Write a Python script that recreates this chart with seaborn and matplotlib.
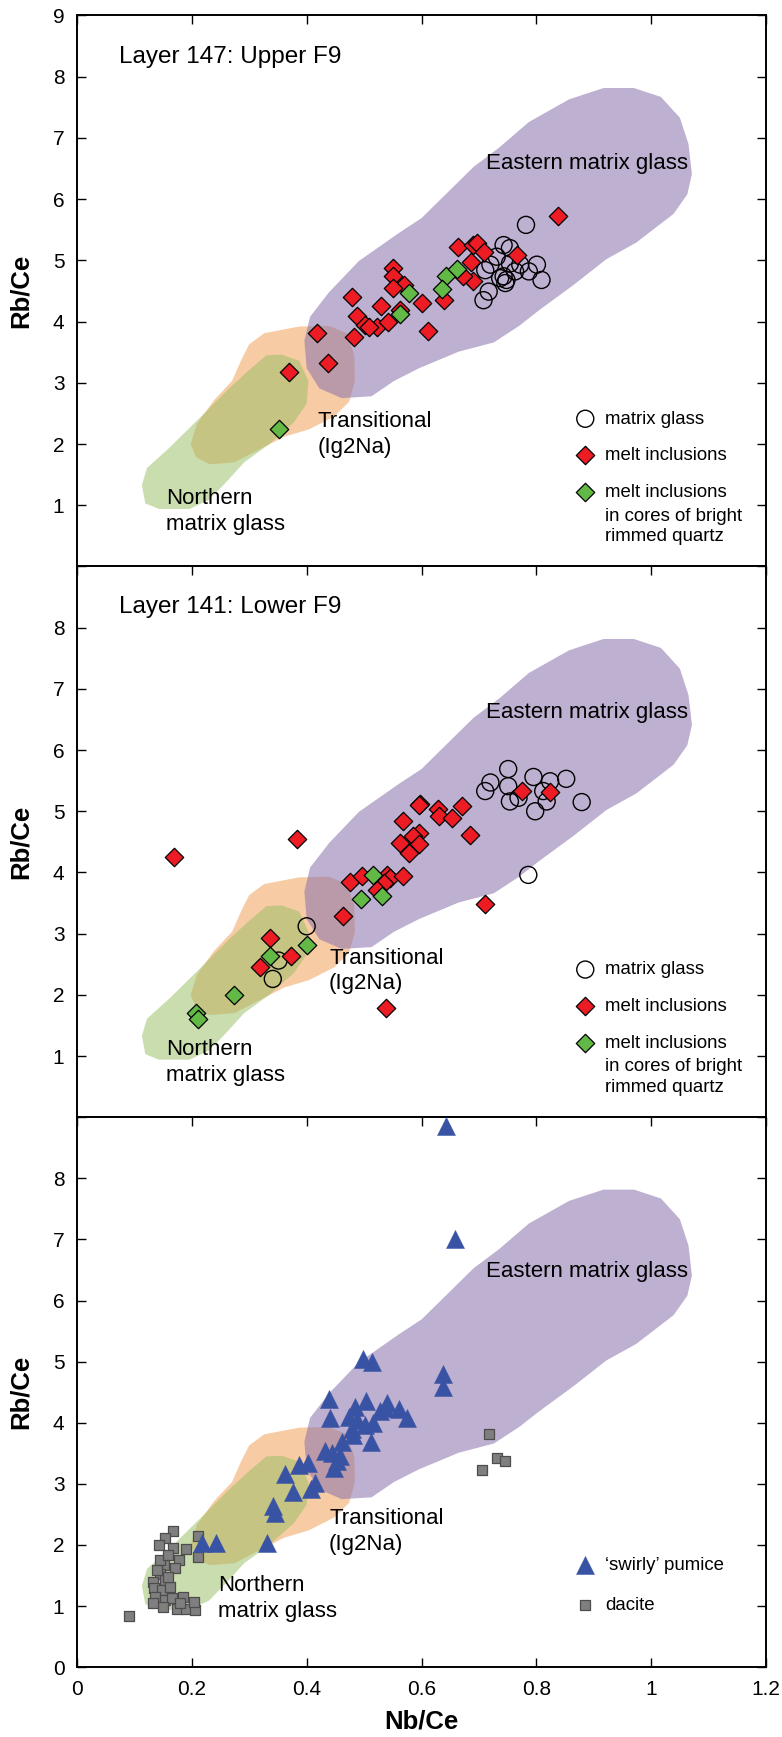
import matplotlib
matplotlib.use("Agg")
import matplotlib.pyplot as plt
import seaborn as sns

# ---------------- compositional fields (same in every panel) ----------------
east_x = [0.917, 0.970, 1.017, 1.050, 1.065, 1.071, 1.063, 1.039, 0.974, 0.922, 0.865, 0.804,
          0.770, 0.726, 0.665, 0.596, 0.552, 0.513, 0.461, 0.422, 0.400, 0.396, 0.406, 0.439,
          0.491, 0.561, 0.600, 0.639, 0.691, 0.735, 0.787, 0.857]
east_y = [7.815, 7.815, 7.67, 7.33, 6.90, 6.41, 6.08, 5.76, 5.29, 5.02, 4.60, 4.18,
          3.93, 3.66, 3.51, 3.24, 3.03, 2.78, 2.75, 2.91, 3.24, 3.69, 4.08, 4.48,
          4.99, 5.45, 5.69, 6.05, 6.53, 6.84, 7.26, 7.63]
trans_x = [0.326, 0.387, 0.439, 0.470, 0.483, 0.484, 0.474, 0.448, 0.404, 0.361, 0.317, 0.274,
           0.230, 0.207, 0.198, 0.209, 0.239, 0.270, 0.287, 0.300]
trans_y = [3.81, 3.92, 3.93, 3.81, 3.45, 3.03, 2.69, 2.45, 2.24, 2.12, 1.91, 1.70,
           1.67, 1.79, 2.00, 2.33, 2.72, 3.03, 3.39, 3.63]
north_x = [0.330, 0.357, 0.387, 0.403, 0.400, 0.378, 0.335, 0.291, 0.261, 0.230, 0.196, 0.143,
           0.119, 0.113, 0.122, 0.161, 0.213, 0.265, 0.300]
north_y = [3.45, 3.46, 3.36, 3.03, 2.66, 2.36, 2.00, 1.70, 1.39, 1.09, 0.94, 0.94,
           1.03, 1.33, 1.61, 1.94, 2.42, 2.91, 3.21]

# ---------------- Panel 1: Layer 147 ----------------
x1_mg = [0.782, 0.743, 0.754, 0.731, 0.720, 0.711, 0.754, 0.772, 0.801, 0.787, 0.809, 0.743,
         0.748, 0.746, 0.737, 0.717, 0.708, 0.763]
y1_mg = [5.58, 5.25, 5.20, 5.06, 4.93, 4.84, 4.95, 4.93, 4.93, 4.82, 4.68, 4.74,
         4.68, 4.63, 4.71, 4.49, 4.35, 4.82]
x1_mi = [0.837, 0.663, 0.689, 0.697, 0.708, 0.686, 0.766, 0.689, 0.673, 0.640, 0.550, 0.550,
         0.569, 0.551, 0.600, 0.479, 0.530, 0.487, 0.501, 0.522, 0.541, 0.563, 0.482, 0.612,
         0.418, 0.438, 0.370, 0.509]
y1_mi = [5.73, 5.22, 5.25, 5.29, 5.14, 4.98, 5.08, 4.67, 4.75, 4.35, 4.87, 4.74,
         4.60, 4.55, 4.31, 4.41, 4.26, 4.09, 3.95, 3.92, 4.00, 4.19, 3.75, 3.85,
         3.81, 3.32, 3.18, 3.91]
x1_q = [0.579, 0.563, 0.642, 0.661, 0.635, 0.352]
y1_q = [4.46, 4.13, 4.75, 4.86, 4.53, 2.25]

# ---------------- Panel 2: Layer 141 ----------------
x2_mg = [0.751, 0.720, 0.711, 0.751, 0.795, 0.824, 0.852, 0.754, 0.769, 0.818, 0.798, 0.879,
         0.812, 0.786, 0.400, 0.351, 0.341]
y2_mg = [5.69, 5.47, 5.33, 5.41, 5.56, 5.49, 5.53, 5.16, 5.22, 5.16, 5.00, 5.15,
         5.33, 3.96, 3.12, 2.56, 2.26]
x2_mi = [0.169, 0.384, 0.598, 0.595, 0.629, 0.631, 0.653, 0.670, 0.685, 0.568, 0.595, 0.586,
         0.563, 0.595, 0.579, 0.476, 0.496, 0.540, 0.545, 0.568, 0.534, 0.522, 0.464, 0.711,
         0.538, 0.775, 0.824, 0.337, 0.373, 0.318]
y2_mi = [4.25, 4.54, 5.12, 5.10, 5.03, 4.92, 4.89, 5.08, 4.62, 4.84, 4.65, 4.59,
         4.48, 4.47, 4.32, 3.84, 3.94, 3.96, 3.91, 3.94, 3.83, 3.72, 3.29, 3.49,
         1.79, 5.33, 5.32, 2.93, 2.64, 2.45]
x2_q = [0.516, 0.495, 0.531, 0.401, 0.337, 0.274, 0.207, 0.211]
y2_q = [3.96, 3.56, 3.61, 2.82, 2.64, 1.99, 1.71, 1.61]

# ---------------- Panel 3: swirly pumice and dacite ----------------
x3_sp = [0.642, 0.659, 0.498, 0.513, 0.638, 0.638, 0.439, 0.441, 0.503, 0.540, 0.484, 0.561,
         0.574, 0.473, 0.528, 0.537, 0.487, 0.516, 0.502, 0.479, 0.481, 0.512, 0.461, 0.432,
         0.444, 0.458, 0.452, 0.448, 0.387, 0.402, 0.362, 0.414, 0.408, 0.377, 0.341, 0.345,
         0.331, 0.217, 0.242]
y3_sp = [8.86, 7.00, 5.04, 4.99, 4.79, 4.58, 4.39, 4.08, 4.36, 4.33, 4.25, 4.22,
         4.08, 4.09, 4.19, 4.24, 4.05, 3.99, 3.97, 3.89, 3.80, 3.68, 3.69, 3.53,
         3.50, 3.45, 3.37, 3.26, 3.31, 3.34, 3.16, 3.01, 2.91, 2.86, 2.64, 2.52,
         2.04, 2.03, 2.03]
x3_da = [0.091, 0.167, 0.211, 0.153, 0.143, 0.168, 0.190, 0.210, 0.178, 0.152, 0.171, 0.145,
         0.153, 0.133, 0.134, 0.148, 0.136, 0.153, 0.165, 0.185, 0.149, 0.174, 0.190, 0.206,
         0.203, 0.145, 0.159, 0.139, 0.162, 0.179, 0.133, 0.159, 0.717, 0.732, 0.746, 0.705]
y3_da = [0.84, 2.23, 2.15, 2.12, 2.00, 1.95, 1.93, 1.80, 1.76, 1.67, 1.62, 1.53,
         1.43, 1.40, 1.29, 1.26, 1.15, 1.10, 1.13, 1.15, 0.99, 0.96, 0.95, 0.94,
         1.07, 1.76, 1.84, 1.59, 1.32, 1.05, 1.05, 1.48, 3.82, 3.43, 3.37, 3.23]

# ---------------- ticks ----------------
x_ticks = [0, 0.2, 0.4, 0.6, 0.8, 1.0, 1.2]
x_tick_labels = ["0", "0.2", "0.4", "0.6", "0.8", "1", "1.2"]
y_ticks = [0, 1, 2, 3, 4, 5, 6, 7, 8, 9]
y_labels_p1 = ["", "1", "2", "3", "4", "5", "6", "7", "8", "9"]
y_labels_p2 = ["", "1", "2", "3", "4", "5", "6", "7", "8", ""]
y_labels_p3 = ["0", "1", "2", "3", "4", "5", "6", "7", "8", ""]

# ---------------- styling ----------------
sns.set_style("ticks")
plt.rcParams["font.family"] = ["Liberation Sans", "DejaVu Sans"]
for k in ["text.color", "axes.labelcolor", "xtick.color", "ytick.color", "axes.edgecolor"]:
    plt.rcParams[k] = "black"

ORANGE = "#F7CBA4"
GREEN_FIELD = "#99BE65"
PURPLE = "#8F77AE"
RED = "#ED1C24"
GREEN_PT = "#62B946"
BLUE = "#3953A4"
GREY = "#7F7F7F"

FS_TICK = 15
FS_TEXT = 16
FS_LEG = 13.4

W, H = 782, 1737
fig = plt.figure(figsize=(W / 100, H / 100), dpi=100)
left = 77 / W
width = 689 / W
tops_px = [15.5, 566.5, 1117.2]
bots_px = [566.5, 1117.2, 1667.2]
axes = [fig.add_axes([left, 1 - b / H, width, (b - t) / H]) for t, b in zip(tops_px, bots_px)]


def draw_fields(ax):
    ax.fill(trans_x, trans_y, color=ORANGE, lw=0, zorder=0.6)
    ax.fill(north_x, north_y, color=GREEN_FIELD, alpha=0.52, lw=0, zorder=0.7)
    ax.fill(east_x, east_y, color=PURPLE, alpha=0.58, lw=0, zorder=0.8)


def pts(ax, x, y, **kw):
    sns.scatterplot(x=x, y=y, ax=ax, legend=False, zorder=3, clip_on=False, **kw)


def glass_panel(ax, xmg, ymg, xmi, ymi, xq, yq):
    draw_fields(ax)
    pts(ax, xmg, ymg, marker="o", s=150, color="none", edgecolor="black", linewidth=1.0,
        label="matrix glass")
    pts(ax, xmi, ymi, marker="D", s=88, color=RED, edgecolor="black", linewidth=0.9,
        label="melt inclusions")
    pts(ax, xq, yq, marker="D", s=88, color=GREEN_PT, edgecolor="black", linewidth=0.9,
        label="melt inclusions")
    leg = ax.legend(loc="upper left", bbox_to_anchor=(0.869, 2.546), bbox_transform=ax.transData,
                    frameon=False, fontsize=FS_LEG, handlelength=1.0, handletextpad=0.58,
                    borderpad=0, borderaxespad=0, labelspacing=1.05, scatterpoints=1)
    ax.annotate("in cores of bright\nrimmed quartz", xy=(0, 0), xycoords=leg.get_texts()[2],
                xytext=(0, -4.9), textcoords="offset points", ha="left", va="top",
                fontsize=FS_LEG, linespacing=1.28, zorder=6)


# Panel 1
ax = axes[0]
glass_panel(ax, x1_mg, y1_mg, x1_mi, y1_mi, x1_q, y1_q)
ax.text(0.074, 8.32, "Layer 147: Upper F9", fontsize=17.5, ha="left", va="center")
ax.text(0.713, 6.58, "Eastern matrix glass", fontsize=FS_TEXT, ha="left", va="center")
ax.text(0.419, 2.155, "Transitional\n(Ig2Na)", fontsize=FS_TEXT, ha="left", va="center", linespacing=1.3)
ax.text(0.155, 0.895, "Northern\nmatrix glass", fontsize=FS_TEXT, ha="left", va="center", linespacing=1.3)

# Panel 2
ax = axes[1]
glass_panel(ax, x2_mg, y2_mg, x2_mi, y2_mi, x2_q, y2_q)
ax.text(0.074, 8.33, "Layer 141: Lower F9", fontsize=17.5, ha="left", va="center")
ax.text(0.713, 6.62, "Eastern matrix glass", fontsize=FS_TEXT, ha="left", va="center")
ax.text(0.439, 2.39, "Transitional\n(Ig2Na)", fontsize=FS_TEXT, ha="left", va="center", linespacing=1.3)
ax.text(0.155, 0.90, "Northern\nmatrix glass", fontsize=FS_TEXT, ha="left", va="center", linespacing=1.3)

# Panel 3
ax = axes[2]
draw_fields(ax)
pts(ax, x3_da, y3_da, marker="s", s=50, color=GREY, edgecolor="#4D4D4D", linewidth=0.9,
    label="dacite")
pts(ax, x3_sp, y3_sp, marker="^", s=170, color=BLUE, edgecolor=BLUE, linewidth=0.3,
    label="\u2018swirly\u2019 pumice")
h, l = ax.get_legend_handles_labels()
ax.legend([h[1], h[0]], [l[1], l[0]], loc="upper left", bbox_to_anchor=(0.869, 1.80),
          bbox_transform=ax.transData, frameon=False, fontsize=FS_LEG, handlelength=1.0,
          handletextpad=0.55, borderpad=0, borderaxespad=0, labelspacing=1.2, scatterpoints=1)
ax.text(0.713, 6.47, "Eastern matrix glass", fontsize=FS_TEXT, ha="left", va="center")
ax.text(0.439, 2.22, "Transitional\n(Ig2Na)", fontsize=FS_TEXT, ha="left", va="center", linespacing=1.3)
ax.text(0.245, 1.12, "Northern\nmatrix glass", fontsize=FS_TEXT, ha="left", va="center", linespacing=1.3)

# Axes formatting
y_label_sets = [y_labels_p1, y_labels_p2, y_labels_p3]
for i, ax in enumerate(axes):
    ax.set_xlim(0, 1.2)
    ax.set_ylim(0, 9)
    ax.set_xticks(x_ticks)
    ax.set_xticklabels(x_tick_labels)
    ax.set_yticks(y_ticks)
    ax.set_yticklabels(y_label_sets[i])
    ax.tick_params(direction="in", length=6.5, width=1.0, top=True, right=True,
                   bottom=(i == 2), labelbottom=(i == 2), labelsize=FS_TICK, pad=9)
    for s in ax.spines.values():
        s.set_linewidth(1.4)
        s.set_color("black")
    ax.set_ylabel("Rb/Ce", fontsize=18.5, fontweight="bold", va="center")
    ax.yaxis.set_label_coords(-0.0813, 0.5)
    ax.set_xlabel("")

axes[2].set_xlabel("Nb/Ce", fontsize=18.5, fontweight="bold", va="center")
axes[2].xaxis.set_label_coords(0.5, -0.0996)

fig.savefig("out.png", dpi=100)
